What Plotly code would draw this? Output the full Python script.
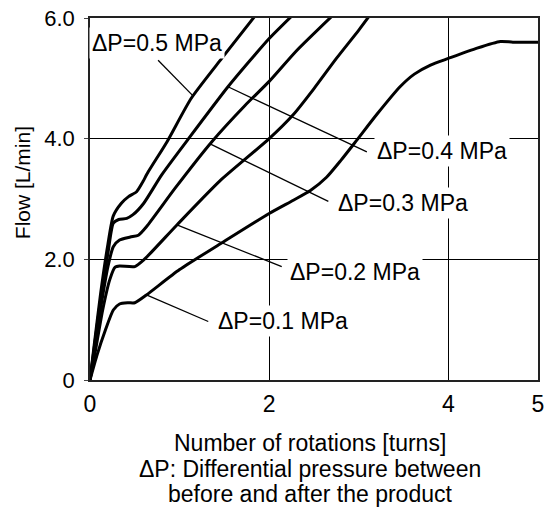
import numpy as np
import plotly.graph_objects as go

# ── Data ──────────────────────────────────────────────────────────────────────
x_01 = [0, 0.08, 0.17, 0.26, 0.33, 0.42, 0.50, 0.63, 1.0, 1.5, 2.0, 2.27, 2.46,
        2.64, 2.8, 2.98, 3.2, 3.46, 3.62, 3.8, 4.0, 4.32, 4.58, 4.72, 5.0]
y_01 = [0, 0.42, 0.82, 1.16, 1.26, 1.28, 1.28, 1.41, 1.83, 2.3, 2.76, 2.98, 3.14,
        3.36, 3.64, 3.98, 4.4, 4.86, 5.07, 5.22, 5.33, 5.5, 5.61, 5.6, 5.6]

x_02 = [0, 0.06, 0.14, 0.22, 0.28, 0.33, 0.5, 0.6, 0.97, 1.45, 2.0, 2.27, 2.5,
        2.75, 3.0, 3.12]
y_02 = [0, 0.48, 1.15, 1.66, 1.87, 1.89, 1.88, 1.99, 2.57, 3.3, 4.0, 4.4, 4.83,
        5.33, 5.8, 6.04]

x_03 = [0, 0.05, 0.12, 0.2, 0.26, 0.33, 0.45, 0.54, 0.63, 0.95, 1.36, 1.73, 2.0,
        2.3, 2.7]
y_03 = [0, 0.5, 1.2, 1.88, 2.21, 2.32, 2.37, 2.40, 2.54, 3.18, 3.95, 4.55, 4.95,
        5.45, 6.03]

x_04 = [0, 0.05, 0.12, 0.2, 0.26, 0.32, 0.41, 0.48, 0.6, 0.8, 1.1, 1.54, 1.8,
        2.0, 2.25]
y_04 = [0, 0.57, 1.35, 2.1, 2.6, 2.66, 2.68, 2.74, 2.93, 3.4, 4.0, 4.86, 5.32,
        5.66, 6.03]

x_05 = [0, 0.05, 0.12, 0.2, 0.26, 0.35, 0.43, 0.52, 0.58, 0.65, 0.86, 1.13, 1.47,
        1.84]
y_05 = [0, 0.62, 1.45, 2.25, 2.72, 2.93, 3.04, 3.12, 3.26, 3.45, 3.95, 4.67, 5.33,
        6.03]

labels = ["ΔP=0.1 MPa", "ΔP=0.2 MPa", "ΔP=0.3 MPa", "ΔP=0.4 MPa", "ΔP=0.5 MPa"]

x_ticks = [0, 2, 4, 5]
x_ticktext = ["0", "2", "4", "5"]
y_ticks = [0, 2, 4, 6]
y_ticktext = ["0", "2.0", "4.0", "6.0"]

x_title_lines = ["Number of rotations [turns]",
                 "ΔP: Differential pressure between",
                 "before and after the product"]

curves = [(x_01, y_01), (x_02, y_02), (x_03, y_03), (x_04, y_04), (x_05, y_05)]

# leader lines: x on the curve where the line starts, label anchor (data coords)
leader_x = [0.63, 0.97, 1.34, 1.54, 1.15]
label_pos = [(2.15, 0.98), (2.96, 1.79), (3.49, 2.93), (3.93, 3.80), (0.75, 5.58)]
leader_end = [(1.32, 0.97), (2.14, 1.88), (2.66, 2.96), (3.09, 3.78), (0.76, 5.3)]

FONT = "Liberation Sans, Arial, sans-serif"

fig = go.Figure()

for cx, cy in curves:
    fig.add_trace(go.Scatter(
        x=cx, y=cy, mode="lines",
        line=dict(color="black", width=3, shape="spline", smoothing=0.6),
        showlegend=False, hoverinfo="skip",
    ))

# leader lines + labels
for (cx, cy), lx, (ex, ey), (tx, ty), txt in zip(curves, leader_x, leader_end,
                                                 label_pos, labels):
    sy = float(np.interp(lx, cx, cy))
    fig.add_trace(go.Scatter(
        x=[lx, ex], y=[sy, ey], mode="lines",
        line=dict(color="black", width=1.3),
        showlegend=False, hoverinfo="skip",
    ))
    fig.add_annotation(
        x=tx, y=ty, text=txt, showarrow=False,
        xanchor="center", yanchor="middle",
        font=dict(family=FONT, size=23, color="black"),
        bgcolor="white", borderpad=2,
    )

# axis titles
fig.add_annotation(
    xref="paper", yref="paper", x=-0.15, y=0.546,
    text="Flow [L/min]", textangle=-90, showarrow=False,
    xanchor="center", yanchor="middle",
    font=dict(family=FONT, size=21, color="black"),
)
for i, line in enumerate(x_title_lines):
    fig.add_annotation(
        xref="paper", yref="paper", x=0.49, y=-0.175 - i * 0.0695,
        text=line, showarrow=False, yanchor="middle",
        font=dict(family=FONT, size=23, color="black"),
    )

fig.update_layout(
    width=547, height=527,
    margin=dict(l=90, r=9, t=18, b=147),
    paper_bgcolor="white", plot_bgcolor="white",
    xaxis=dict(
        range=[0, 5], tickvals=x_ticks, ticktext=x_ticktext,
        showgrid=True, gridcolor="black", gridwidth=1.3,
        zeroline=False, showline=True, linecolor="#222", linewidth=1.6,
        mirror=True, ticks="", ticklabelstandoff=3,
        ticklabeloverflow="allow", automargin=False,
        tickfont=dict(family=FONT, size=23, color="black"),
    ),
    yaxis=dict(
        range=[0, 6], tickvals=y_ticks, ticktext=y_ticktext,
        showgrid=True, gridcolor="black", gridwidth=1.3,
        zeroline=False, showline=True, linecolor="#222", linewidth=1.6,
        mirror=True, ticks="outside", ticklen=4, tickcolor="#444",
        ticklabelstandoff=5, ticklabeloverflow="allow", automargin=False,
        tickfont=dict(family=FONT, size=22, color="black"),
    ),
)

# drop the default 8 px page margin so the figure fills the window exactly
fig.write_html("out.html", config={"displayModeBar": False},
               post_script="document.body.style.margin = '0';")
